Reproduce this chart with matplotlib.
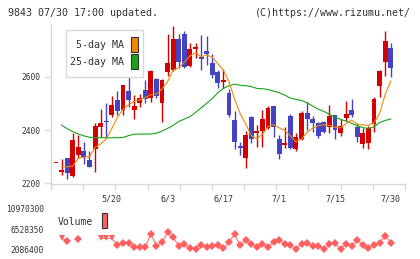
import matplotlib
matplotlib.use("Agg")
import matplotlib.pyplot as plt
from matplotlib.patches import Rectangle
import numpy as np

# ---------------- data ----------------
tick_idx = [10, 20, 30, 40, 50, 60]
tick_labels = ["5/20", "6/3", "6/17", "7/1", "7/15", "7/30"]
price_ticks = [2200, 2400, 2600]
volume_ticks = [2086400, 6528350, 10970300]

opens = [2279, 2243, 2296, 2229, 2306, 2321, 2287, 2329, 2412, 2435,
         2456, 2512, 2475, 2547, 2475, 2500, 2550, 2522, 2590, 2500,
         2619, 2625, 2742, 2760, 2640, 2704, 2674, 2696, 2650, 2616,
         2580, 2540, 2437, 2340, 2296, 2449, 2387, 2397, 2409, 2490,
         2366, 2345, 2452, 2330, 2367, 2464, 2441, 2426, 2430, 2412,
         2456, 2390, 2446, 2475, 2411, 2349, 2352, 2424, 2566, 2656,
         2707]
highs = [2279, 2291, 2296, 2387, 2381, 2355, 2321, 2425, 2479, 2500,
         2529, 2547, 2570, 2600, 2531, 2535, 2587, 2625, 2597, 2590,
         2760, 2790, 2760, 2771, 2727, 2727, 2756, 2752, 2687, 2625,
         2629, 2554, 2472, 2356, 2396, 2452, 2419, 2475, 2490, 2490,
         2381, 2412, 2460, 2387, 2471, 2505, 2452, 2430, 2434, 2494,
         2456, 2441, 2509, 2516, 2426, 2407, 2415, 2524, 2625, 2771,
         2726]
lows = [2279, 2231, 2215, 2225, 2294, 2272, 2262, 2244, 2375, 2369,
        2450, 2456, 2456, 2487, 2441, 2487, 2500, 2506, 2519, 2431,
        2602, 2620, 2631, 2631, 2637, 2671, 2627, 2644, 2597, 2556,
        2559, 2450, 2330, 2306, 2259, 2352, 2337, 2337, 2404, 2375,
        2291, 2331, 2329, 2321, 2362, 2400, 2394, 2370, 2389, 2390,
        2367, 2379, 2434, 2450, 2355, 2332, 2329, 2394, 2525, 2604,
        2600]
closes = [2279, 2250, 2240, 2362, 2337, 2300, 2262, 2415, 2427, 2429,
          2494, 2472, 2569, 2512, 2490, 2521, 2516, 2622, 2527, 2587,
          2652, 2742, 2656, 2637, 2704, 2711, 2665, 2687, 2605, 2577,
          2587, 2456, 2356, 2334, 2381, 2367, 2396, 2441, 2482, 2412,
          2309, 2351, 2334, 2372, 2464, 2440, 2425, 2379, 2392, 2452,
          2401, 2415, 2460, 2456, 2374, 2389, 2407, 2516, 2622, 2734,
          2634]

ma5 = [None, 2262, 2262, 2265, 2294, 2298, 2300, 2335, 2348, 2367,
       2405, 2447, 2478, 2495, 2507, 2513, 2522, 2532, 2535, 2555,
       2581, 2626, 2633, 2655, 2678, 2690, 2675, 2681, 2674, 2649,
       2624, 2582, 2516, 2462, 2423, 2379, 2367, 2384, 2413, 2420,
       2408, 2399, 2378, 2356, 2366, 2392, 2407, 2416, 2420, 2418,
       2410, 2408, 2424, 2437, 2421, 2419, 2417, 2428, 2462, 2534,
       2583]
ma25 = [None, 2418, 2405, 2394, 2385, 2378, 2373, 2371, 2371, 2371,
        2371, 2371, 2372, 2379, 2384, 2385, 2385, 2385, 2388, 2396,
        2406, 2418, 2432, 2441, 2450, 2466, 2483, 2500, 2518, 2540,
        2556, 2566, 2572, 2568, 2566, 2563, 2556, 2555, 2552, 2546,
        2540, 2531, 2520, 2515, 2511, 2502, 2490, 2478, 2470, 2459,
        2448, 2440, 2433, 2425, 2416, 2409, 2406, 2412, 2428, 2436,
        2441]

volume = [None, 4510000, 3990000, None, 4280000, None, None, None, 4510000, 4510000,
          4510000, 3030000, 3400000, 3400000, 2520000, 2520000, 2670000, 5460000, 2810000, 3620000,
          5830000, 4720000, 2810000, 3250000, 2300000, 2230000, 3110000, 2520000, 2810000, 3030000,
          2300000, 3620000, 5460000, 2960000, 4140000, 3250000, 2520000, 3250000, 2670000, 3620000,
          4140000, 3250000, 3030000, 2080000, 3250000, 3400000, 2810000, 2810000, 2080000, 3180000,
          3400000, 2080000, 3250000, 2810000, 4140000, 3030000, 2300000, 3030000, 3400000, 5090000,
          3550000]
volume_cut = [1, 8, 9, 10]   # days drawn with a cut (triangle) marker

# ---------------- style ----------------
W, H = 420, 259
UP = "#d40000"
DOWN = "#4343c3"
ORANGE = "#f0880a"
GREEN = "#16a516"
VOLC = "#ff5f5f"
GRID = "#d8d8d8"
TXT = "#333333"
MONO = "DejaVu Sans Mono"

def fx(px):
    return px / W

def fy(py):
    return 1 - py / H

fig = plt.figure(figsize=(W / 100, H / 100), dpi=100)

# main axes: x 51..405 px, y 25..184 px
ax = fig.add_axes([fx(51), fy(184), fx(405) - fx(51), fy(25) - fy(184)])
n = len(closes)
x = np.arange(n)
ax.set_xlim(-0.9, 62.55)
ax.set_ylim(2197.5, 2794)

bw = 0.88
for i in range(n):
    o, h, l, c = opens[i], highs[i], lows[i], closes[i]
    col = UP if c >= o else DOWN
    ax.plot([i, i], [l, h], color=col, lw=1.0, solid_capstyle="butt", zorder=2)
    bottom = min(o, c)
    height = max(abs(c - o), 3.8)
    if abs(c - o) < 3.8:
        bottom = (o + c) / 2 - 1.9
    ax.add_patch(Rectangle((i - bw / 2, bottom), bw, height, facecolor=col,
                           edgecolor="none", zorder=3))

ma5_arr = np.array([np.nan if v is None else v for v in ma5], dtype=float)
ma25_arr = np.array([np.nan if v is None else v for v in ma25], dtype=float)
ax.plot(x, ma25_arr, color=GREEN, lw=0.8, zorder=4)
ax.plot(x, ma5_arr, color=ORANGE, lw=0.8, zorder=4)

for s in ["top", "right"]:
    ax.spines[s].set_visible(False)
for s in ["left", "bottom"]:
    ax.spines[s].set_color(GRID)
    ax.spines[s].set_linewidth(1.0)

ax.set_yticks(price_ticks)
ax.set_yticklabels([str(v) for v in price_ticks], fontsize=5.7, color=TXT, family=MONO)
ax.tick_params(axis="y", length=5, width=1, color=GRID, pad=2.5)

ax.set_xticks(tick_idx)
ax.set_xticklabels(tick_labels, fontsize=6, color=TXT, family=MONO)
ax.tick_params(axis="x", which="major", length=0, pad=7.5)
ax.set_xticks(np.linspace(-0.9, 62.55, 12), minor=True)
ax.tick_params(axis="x", which="minor", length=4, width=1, color=GRID)

# legend box (main)
lg = Rectangle((fx(65.7), fy(77.3)), fx(143.3) - fx(65.7), fy(30) - fy(77.3),
               transform=fig.transFigure, facecolor="white", edgecolor=GRID,
               lw=1.0, zorder=10)
fig.patches.append(lg)
fig.text(fx(124), fy(45), "5-day MA", ha="right", va="center", fontsize=7.2,
         color=TXT, family=MONO, zorder=11)
fig.text(fx(124), fy(62), "25-day MA", ha="right", va="center", fontsize=7.2,
         color=TXT, family=MONO, zorder=11)
for (y0, y1, col) in [(37.3, 52.3, ORANGE), (54.3, 69.3, GREEN)]:
    fig.patches.append(Rectangle((fx(131), fy(y1)), fx(137.7) - fx(131), fy(y0) - fy(y1),
                                 transform=fig.transFigure, facecolor=col,
                                 edgecolor="#333333", lw=0.8, zorder=11))

# volume axes: y 205..255 px
vax = fig.add_axes([fx(51), fy(255), fx(405) - fx(51), fy(205) - fy(255)])
vax.set_xlim(-0.9, 62.55)
v_lo = 2086400 - (255 - 249.3) * 220444
v_hi = 2086400 + (249.3 - 205) * 220444
vax.set_ylim(v_lo, v_hi)
for s in vax.spines.values():
    s.set_visible(False)
vol_arr = np.array([np.nan if v is None else v for v in volume], dtype=float)
vax.plot(x, vol_arr, color=VOLC, lw=0.7, zorder=2)
normal = [i for i in range(n) if volume[i] is not None and i not in volume_cut]
vax.plot(normal, vol_arr[normal], linestyle="none", marker="D", markersize=3.9,
         color=VOLC, markeredgewidth=0, zorder=3)
vax.plot(volume_cut, vol_arr[volume_cut], linestyle="none", marker="v", markersize=4.4,
         color=VOLC, markeredgewidth=0, zorder=3)
vax.set_xticks([])
vax.set_yticks(volume_ticks)
vax.set_yticklabels([str(v) for v in volume_ticks], fontsize=5.7, color=TXT, family=MONO)
vax.tick_params(axis="y", length=0, pad=5)

fig.text(fx(58), fy(222), "Volume", ha="left", va="center", fontsize=7,
         color=TXT, family=MONO)
fig.patches.append(Rectangle((fx(101.7), fy(228.3)), fx(107.3) - fx(101.7), fy(213.3) - fy(228.3),
                             transform=fig.transFigure, facecolor=VOLC,
                             edgecolor="#333333", lw=0.8))

# header texts
fig.text(fx(8), fy(13), "9843 07/30 17:00 updated.", ha="left", va="center",
         fontsize=7.2, color=TXT, family=MONO)
fig.text(fx(411), fy(13), "(C)https://www.rizumu.net/", ha="right", va="center",
         fontsize=7.2, color=TXT, family=MONO)

fig.savefig("out.png", dpi=100)
